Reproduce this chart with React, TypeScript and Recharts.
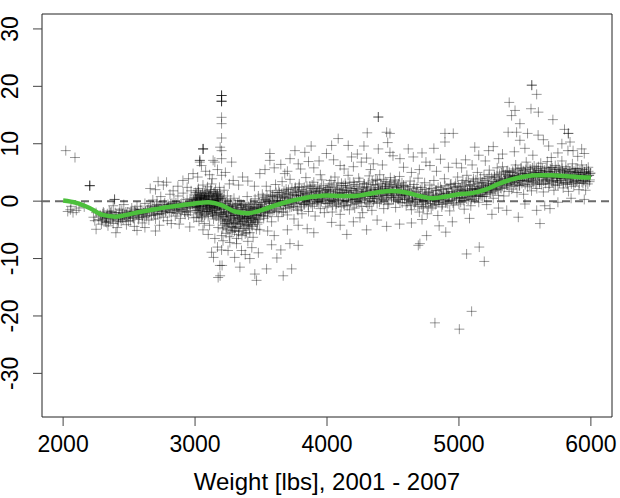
import React from 'react';
import {
  ComposedChart, Scatter, XAxis, YAxis, ReferenceLine, ReferenceArea,
} from 'recharts';

// residuals vs. weight [weight, residual]
const sparseLow: [number, number][] = [
  [2020, 8.8], [2090, 7.6], [2202, 2.7], [2035, -1.8], [2055, -1.5], [2075, -2.0], [2100, -1.6],
  [2120, -1.2], [2060, -0.9], [2160, -1.0], [2230, -2.8], [2240, -3.4], [2250, -2.0],
];

// points that sit on top of each other (drawn darker in the reference)
const stacked: [number, number][] = [
  [2202, 2.7], [2202, 2.7], [2390, 0.3], [3061, 9.1], [3061, 9.1], [3201, 18.4], [3201, 18.4],
  [3201, 17.4], [3201, 17.4], [5552, 20.2], [4389, 14.65], [3036, 7.1], [5829, 11.8],
];

const band2300: [number, number][] = [
  [2270, -3.2], [2280, -2.4], [2290, -4.0], [2300, -3.0], [2310, -2.1], [2320, -3.6], [2330, -2.8],
  [2340, -4.3], [2350, -1.7], [2360, -3.3], [2370, -2.5], [2380, -3.9], [2390, 0.3], [2395, -2.0],
  [2400, -3.1], [2410, -4.6], [2420, -2.7], [2430, -1.4], [2440, -3.5], [2450, -2.2], [2460, -0.6],
  [2470, -3.0], [2480, -4.1], [2490, -1.9], [2500, -2.6], [2510, -3.4], [2520, -1.2], [2530, -2.9],
  [2540, -4.4], [2550, -2.0], [2560, -0.9], [2570, -3.2], [2580, -2.4], [2590, -1.5], [2600, -3.8],
  [2610, -2.1], [2620, -0.4], [2630, -2.7], [2640, -1.6], [2650, -3.3], [2300, -2.2], [2330, -3.7],
  [2360, -2.0], [2420, -3.6], [2450, -2.9], [2480, -2.3], [2510, -2.5], [2540, -1.8], [2570, -2.2],
  [2600, -2.6], [2250, -4.9], [2400, -5.5], [2560, -5.1], [2620, -4.6], [2380, -0.8], [2700, -5.2],
  [2285, -2.6], [2295, -3.4], [2305, -1.9], [2315, -2.8], [2325, -3.1], [2335, -2.2], [2345, -3.6],
  [2355, -2.5], [2365, -1.8], [2375, -3.0], [2385, -2.7], [2405, -2.3], [2415, -3.3], [2425, -2.0],
  [2435, -2.9], [2445, -1.6], [2455, -3.2], [2465, -2.4], [2475, -1.9], [2485, -2.8], [2495, -3.5],
  [2505, -2.1], [2515, -1.7], [2525, -2.6], [2535, -3.0], [2545, -1.5], [2555, -2.3], [2565, -1.9],
  [2575, -2.8], [2585, -1.4], [2595, -2.2], [2605, -1.6], [2615, -2.9], [2625, -1.8], [2635, -2.4],
  [2645, -1.3],
];

const band2800: [number, number][] = [
  [2660, -1.0], [2670, -2.5], [2680, 0.2], [2690, -1.8], [2700, -3.1], [2710, -0.6], [2720, -1.4],
  [2730, -2.2], [2740, 0.8], [2750, -1.1], [2760, -2.8], [2770, -0.3], [2780, -1.7], [2790, -3.4],
  [2800, -0.9], [2810, 1.2], [2820, -2.0], [2830, -1.3], [2840, -0.1], [2850, -2.6], [2860, -0.7],
  [2870, 0.9], [2880, -1.5], [2890, -3.0], [2900, -0.4], [2910, 1.4], [2920, -1.9], [2930, -0.8],
  [2940, 0.3], [2950, -2.4], [2960, -1.1], [2970, 1.8], [2980, -0.5], [2990, -2.9], [2675, -1.6],
  [2725, -0.8], [2775, -1.9], [2825, -0.4], [2875, -1.2], [2925, -2.3], [2975, -0.2], [2695, -2.4],
  [2745, -1.6], [2795, -0.6], [2845, -1.4], [2895, -1.8], [2945, -0.9], [2995, 0.6],
  [2655, -1.9], [2665, -0.8], [2685, -2.1], [2705, -1.3], [2715, -2.3], [2735, -0.9], [2755, -1.8],
  [2765, -0.6], [2785, -1.2], [2805, -2.0], [2815, -0.5], [2835, -1.7], [2855, -0.3], [2865, -1.6],
  [2885, -0.8], [2905, -1.5], [2915, -0.2], [2935, -1.3], [2955, -0.4], [2965, -1.7], [2985, -0.9],
  [2692, -1.0], [2742, -2.2], [2792, -1.4], [2842, -0.7], [2892, -0.5], [2942, -1.9], [2988, 0.2],
  [2712, -0.1], [2812, -1.0], [2912, -1.1], [2862, -2.1], [2962, 0.4],
  [2700, 2.0], [2760, 2.8], [2784, 3.3], [2834, 1.8], [2870, 2.6], [2908, 3.6], [2950, 3.9],
  [2985, 4.8], [2940, 2.4], [2660, 2.2], [2720, 3.4],
  [2730, -4.2], [2880, -4.0], [2960, -4.5], [2820, -3.9],
];

const band3100: [number, number][] = [
  [3000, -1.2], [3005, 1.5], [3010, -2.8], [3015, 0.4], [3020, -0.6], [3025, 2.2], [3030, -3.5],
  [3035, -0.1], [3040, 1.0], [3045, -1.9], [3050, 0.7], [3055, -2.4], [3060, 2.8], [3065, -0.8],
  [3070, -3.9], [3075, 0.2], [3080, 1.8], [3085, -1.4], [3090, -0.3], [3095, 2.5], [3100, -2.1],
  [3105, 0.9], [3110, -4.2], [3115, 1.3], [3120, -0.7], [3125, 3.0], [3130, -1.7], [3135, 0.1],
  [3140, -3.1], [3145, 1.6], [3150, -0.4], [3155, 2.0], [3160, -2.6], [3165, -0.9], [3170, 1.1],
  [3175, -4.6], [3180, 0.5], [3185, 2.4], [3190, -1.5], [3195, -3.3],
  [3002, 0.3], [3012, -0.9], [3022, 1.9], [3032, -1.6], [3042, -0.2], [3052, -2.9], [3062, 0.6],
  [3072, 1.4], [3082, -0.5], [3092, -1.8], [3102, 0.8], [3112, -1.1], [3122, 1.7], [3132, -2.3],
  [3142, 0.0], [3152, -1.2], [3162, 1.2], [3172, -0.6], [3182, -2.0], [3192, 0.9],
  [3008, -0.4], [3028, -1.0], [3048, 0.5], [3068, -0.5], [3088, 0.4], [3108, -0.8], [3128, 0.2],
  [3148, -1.0], [3168, 0.3], [3188, -0.7],
  [3001, -0.7], [3004, 0.9], [3007, -1.6], [3009, 0.1], [3011, 1.2], [3014, -0.3], [3017, -2.0],
  [3019, 0.6], [3021, -1.1], [3024, 0.3], [3027, 1.6], [3029, -0.8], [3031, -2.2], [3034, 0.5],
  [3037, -0.5], [3039, 1.1], [3041, -1.4], [3044, 0.0], [3047, -2.6], [3051, 0.8], [3054, -0.9],
  [3057, 1.3], [3059, -1.7], [3063, -0.2], [3066, 0.9], [3069, -1.3], [3071, 0.4], [3074, -2.4],
  [3077, 1.0], [3079, -0.6], [3083, 0.2], [3086, -1.8], [3089, 1.5], [3091, -0.1], [3094, -1.0],
  [3097, 0.6], [3099, -2.7], [3103, -0.4], [3106, 1.1], [3109, -1.5], [3111, 0.3], [3114, -0.7],
  [3117, 2.0], [3119, -1.9], [3123, 0.0], [3126, -1.2], [3129, 0.9], [3131, -0.3], [3134, -2.1],
  [3137, 0.7], [3139, -0.9], [3143, 1.4], [3146, -1.6], [3149, 0.2], [3151, -2.5], [3154, -0.2],
  [3157, 1.0], [3159, -1.3], [3163, 0.5], [3166, -2.0], [3169, -0.4], [3171, 1.3], [3174, -1.1],
  [3177, 0.1], [3179, -2.9], [3183, 0.8], [3186, -0.8], [3189, 1.6], [3191, -2.3], [3194, -0.5],
  [3197, 0.4],
  [3036, 7.1], [3049, 6.2], [3061, 9.1], [3137, 7.1], [3150, 6.8], [3036, 6.8], [3080, 5.2],
  [3110, 4.6], [3170, 5.5], [3190, 9.4], [3020, 4.2], [3130, 3.9],
  [3125, -8.9], [3188, -11.2], [3175, -13.3], [3212, -6.9], [3100, -5.8], [3150, -6.5],
  [3060, -5.0], [3170, -8.0], [3140, -9.8],
];

const band3350: [number, number][] = [
  [3201, 18.4], [3201, 17.4], [3201, 14.6], [3201, 13.5], [3201, 8.8], [3201, 7.4], [3201, 4.5],
  [3201, 11.0], [3205, -11.2], [3190, -13.0], [3201, -8.5], [3201, -6.0],
  [3200, -2.2], [3205, 0.6], [3210, -4.8], [3215, -1.3], [3220, 1.9], [3225, -3.6], [3230, -0.4],
  [3235, -5.6], [3240, -2.0], [3245, 0.9], [3250, -3.9], [3255, -1.1], [3260, -6.2], [3265, -2.7],
  [3270, 0.2], [3275, -4.4], [3280, -1.6], [3285, -5.1], [3290, -3.0], [3295, 0.5], [3300, -2.4],
  [3305, -4.7], [3310, -0.8], [3315, -6.5], [3320, -3.3], [3325, -1.4], [3330, -5.3], [3335, 0.1],
  [3340, -2.9], [3345, -4.0], [3350, -1.8], [3355, -6.0], [3360, -3.5], [3365, -0.6], [3370, -4.8],
  [3375, -2.2], [3380, -5.7], [3385, -1.0], [3390, -3.8], [3395, 0.8], [3400, -2.6], [3405, -4.3],
  [3410, -1.2], [3415, -5.5], [3420, -3.1], [3425, -0.3], [3430, -4.1], [3435, -2.0], [3440, -6.3],
  [3445, -1.5], [3450, -3.4], [3455, 0.4], [3460, -2.8], [3465, -4.9], [3470, -1.1], [3475, -3.7],
  [3480, 0.9], [3485, -2.3], [3490, -5.0], [3495, -0.7],
  [3212, -2.7], [3228, -1.8], [3242, -3.2], [3258, -0.9], [3272, -2.5], [3288, -1.4], [3302, -3.7],
  [3318, -2.0], [3332, -2.8], [3348, -0.5], [3362, -1.9], [3378, -3.0], [3392, -2.1], [3408, -2.7],
  [3422, -1.7], [3438, -3.1], [3452, -1.3], [3468, -2.4], [3482, -1.0], [3498, -1.9],
  [3202, -1.5], [3207, -3.1], [3209, -0.2], [3213, -4.2], [3217, -2.3], [3219, 0.4], [3223, -1.2],
  [3227, -3.9], [3229, -2.6], [3233, -0.7], [3237, -4.5], [3239, -1.9], [3243, -3.4], [3247, -0.8],
  [3249, -5.0], [3253, -2.2], [3257, -3.6], [3259, -1.3], [3263, -4.1], [3267, -0.5], [3269, -2.9],
  [3273, -5.4], [3277, -1.7], [3279, -3.3], [3283, -0.9], [3287, -4.6], [3289, -2.1], [3293, -3.8],
  [3297, -1.2], [3299, -5.2], [3303, -2.5], [3307, -0.6], [3309, -3.9], [3313, -1.6], [3317, -4.4],
  [3319, -2.4], [3323, -0.4], [3327, -3.5], [3329, -5.8], [3333, -1.9], [3337, -3.0], [3339, -4.7],
  [3343, -1.1], [3347, -2.6], [3349, -4.0], [3353, -0.8], [3357, -3.2], [3359, -2.0], [3363, -5.1],
  [3367, -1.5], [3369, -3.6], [3373, -2.7], [3377, -0.7], [3379, -4.3], [3383, -1.8], [3387, -3.0],
  [3389, -5.5], [3393, -1.4], [3397, -2.8], [3399, -4.1], [3403, -0.9], [3407, -3.4], [3409, -1.9],
  [3413, -4.7], [3417, -2.2], [3419, -0.5], [3423, -3.7], [3427, -1.6], [3429, -2.9], [3433, -4.4],
  [3437, -1.2], [3443, -3.1], [3447, -0.6], [3449, -2.4], [3457, -3.6], [3463, -1.0], [3467, -2.5],
  [3473, -4.0], [3477, -1.4], [3483, -3.2], [3487, -0.3], [3493, -2.6], [3497, -1.3],
  [3264, -7.2], [3314, -7.4], [3352, -8.6], [3415, -10.0], [3453, -12.7], [3466, -13.8],
  [3380, -9.3], [3300, -9.8], [3430, -8.1], [3250, -8.6], [3480, -9.0], [3340, -11.5], [3400, -7.0],
  [3277, 6.8], [3289, 3.6], [3491, 4.8], [3260, 3.0], [3330, 2.8], [3400, 3.5], [3450, 2.6],
  [3230, 5.0], [3360, 4.2],
];

const band3750: [number, number][] = [
  [3500, -1.4], [3510, 1.2], [3520, -3.0], [3530, 0.3], [3540, 2.6], [3550, -2.1], [3560, -0.4],
  [3570, 1.8], [3580, -3.6], [3590, 0.8], [3600, -1.2], [3610, 2.9], [3620, -0.1], [3630, -2.7],
  [3640, 1.5], [3650, -0.8], [3660, 3.4], [3670, -1.9], [3680, 0.6], [3690, 2.1], [3700, -2.4],
  [3710, 0.0], [3720, 3.8], [3730, -1.0], [3740, 1.1], [3750, -3.1], [3760, 2.4], [3770, 0.4],
  [3780, -1.6], [3790, 3.0], [3800, 0.9], [3810, -2.2], [3820, 1.7], [3830, -0.6], [3840, 4.1],
  [3850, 0.2], [3860, -1.8], [3870, 2.6], [3880, 1.0], [3890, -0.9], [3900, 3.3], [3910, -2.6],
  [3920, 1.4], [3930, 0.3], [3940, 2.2], [3950, -1.3], [3960, 3.7], [3970, 0.7], [3980, -2.0],
  [3990, 1.9],
  [3505, -0.6], [3525, -1.7], [3545, 0.9], [3565, -1.0], [3585, -0.2], [3605, 0.1], [3625, 1.0],
  [3645, -0.5], [3665, 0.8], [3685, -0.7], [3705, 1.3], [3725, 0.2], [3745, -0.3], [3765, 0.9],
  [3785, 1.6], [3805, -0.4], [3825, 0.5], [3845, 1.2], [3865, 0.0], [3885, 1.8], [3905, 0.6],
  [3925, -0.2], [3945, 1.1], [3965, 0.4], [3985, 0.9],
  [3502, -2.0], [3508, -0.2], [3514, -1.5], [3518, 0.6], [3522, -2.5], [3528, -0.9], [3534, -1.8],
  [3538, 0.2], [3544, -1.2], [3548, -2.7], [3554, 0.4], [3558, -1.5], [3564, -0.1], [3568, -2.0],
  [3574, 0.9], [3578, -0.8], [3584, -1.9], [3588, 1.1], [3594, -0.4], [3598, -1.6], [3604, 0.7],
  [3608, -0.9], [3614, 1.5], [3618, -1.8], [3624, 0.1], [3628, -0.6], [3634, 1.9], [3638, -1.4],
  [3644, 0.4], [3648, -0.3], [3654, 1.2], [3658, -1.9], [3664, 0.6], [3668, -0.8], [3674, 1.8],
  [3678, -0.2], [3684, 0.9], [3688, -1.3], [3694, 1.6], [3698, 0.1], [3704, -0.6], [3708, 2.0],
  [3714, 0.5], [3718, -1.1], [3724, 1.2], [3728, -0.1], [3734, 2.3], [3738, 0.3], [3744, -0.9],
  [3748, 1.5], [3754, 0.0], [3758, 2.1], [3764, -0.5], [3768, 1.0], [3774, -1.4], [3778, 1.8],
  [3784, 0.4], [3788, 2.5], [3794, -0.3], [3798, 1.1], [3804, -1.0], [3808, 2.0], [3814, 0.6],
  [3818, 1.4], [3824, -0.6], [3828, 2.4], [3834, 0.2], [3838, 1.3], [3844, -0.2], [3848, 2.6],
  [3854, 0.8], [3858, -0.7], [3864, 1.5], [3868, 0.5], [3874, 2.2], [3878, -0.4], [3884, 1.0],
  [3888, 2.8], [3894, 0.3], [3898, 1.6], [3904, -0.5], [3908, 2.1], [3914, 0.9], [3918, 1.7],
  [3924, 0.0], [3928, 2.5], [3934, 1.1], [3938, -0.3], [3944, 1.8], [3948, 0.6], [3954, 2.3],
  [3958, -0.1], [3964, 1.4], [3968, 0.8], [3974, 2.7], [3978, 0.2], [3984, 1.6], [3988, -0.4],
  [3994, 2.0], [3998, 0.7],
  [3567, 8.3], [3567, 7.1], [3757, 8.8], [3782, 6.5], [3832, 8.5], [3996, 8.3], [3600, 5.8],
  [3650, 6.4], [3700, 5.2], [3720, 7.4], [3800, 5.6], [3860, 6.9], [3900, 5.8], [3940, 7.0],
  [3530, 5.5], [3680, 4.8], [3950, 4.6], [3880, 9.6],
  [3542, -11.8], [3668, -13.0], [3732, -11.8], [3782, -7.7], [3719, -7.4], [3782, -4.2],
  [3600, -6.0], [3650, -8.5], [3550, -5.2], [3700, -5.0], [3850, -4.8], [3900, -5.5],
  [3620, -9.9], [3580, -7.6],
];

const band4300: [number, number][] = [
  [4000, -1.0], [4010, 2.4], [4020, 0.1], [4030, 3.6], [4040, -1.9], [4050, 1.2], [4060, 4.2],
  [4070, -0.5], [4080, 2.0], [4090, 0.6], [4100, -2.3], [4110, 3.1], [4120, 1.5], [4130, -0.8],
  [4140, 2.7], [4150, 0.0], [4160, 4.5], [4170, -1.5], [4180, 1.9], [4190, 0.8], [4200, 3.3],
  [4210, -1.2], [4220, 2.2], [4230, 0.4], [4240, 4.0], [4250, -0.2], [4260, 1.6], [4270, -2.0],
  [4280, 3.0], [4290, 0.9], [4300, 2.5], [4310, -0.9], [4320, 4.4], [4330, 1.3], [4340, -1.6],
  [4350, 2.9], [4360, 0.5], [4370, 3.8], [4380, -0.4], [4390, 1.8], [4400, 4.6], [4410, 0.2],
  [4420, 2.6], [4430, -1.3], [4440, 3.4], [4450, 1.0], [4460, -0.6], [4470, 2.3], [4480, 4.1],
  [4490, 0.7], [4500, 1.5], [4510, 3.7], [4520, -1.1], [4530, 2.0], [4540, 0.3], [4550, 4.3],
  [4560, 1.2], [4570, -0.3], [4580, 2.8], [4590, 0.9],
  [4005, 0.9], [4025, 1.6], [4045, 0.4], [4065, 1.1], [4085, 0.2], [4105, 1.4], [4125, 0.7],
  [4145, 1.9], [4165, 0.9], [4185, 0.3], [4205, 1.0], [4225, 1.3], [4245, 0.6], [4265, 1.1],
  [4285, 0.4], [4305, 1.8], [4325, 1.0], [4345, 0.8], [4365, 1.5], [4385, 2.0], [4405, 1.7],
  [4425, 1.2], [4445, 2.1], [4465, 1.4], [4485, 1.9], [4505, 1.0], [4525, 2.4], [4545, 1.6],
  [4565, 1.8], [4585, 1.1],
  [4003, 2.0], [4008, -0.4], [4013, 1.3], [4018, 3.0], [4023, -0.2], [4028, 1.8], [4033, 0.3],
  [4038, 2.5], [4043, -0.7], [4048, 1.1], [4053, 2.8], [4058, 0.0], [4063, 1.6], [4068, -0.9],
  [4073, 2.3], [4078, 0.7], [4083, 3.2], [4088, -0.3], [4093, 1.4], [4098, 2.1], [4103, 0.2],
  [4108, -1.0], [4113, 1.9], [4118, 0.6], [4123, 2.7], [4128, -0.5], [4133, 1.2], [4138, 3.1],
  [4143, 0.1], [4148, 1.7], [4153, -0.8], [4158, 2.4], [4163, 0.8], [4168, 1.5], [4173, 3.3],
  [4178, -0.2], [4183, 1.0], [4188, 2.2], [4193, 0.4], [4198, -0.6], [4203, 1.8], [4208, 2.9],
  [4213, 0.3], [4218, 1.4], [4223, -0.4], [4228, 2.6], [4233, 1.1], [4238, 0.0], [4243, 2.0],
  [4248, 3.4], [4253, 0.6], [4258, 1.3], [4263, -0.9], [4268, 2.4], [4273, 0.9], [4278, 1.7],
  [4283, 3.0], [4288, 0.2], [4293, 1.5], [4298, -0.3], [4303, 2.1], [4308, 0.8], [4313, 3.2],
  [4318, 1.2], [4323, -0.5], [4328, 2.3], [4333, 0.5], [4338, 1.9], [4343, 3.5], [4348, 0.9],
  [4353, -0.1], [4358, 2.0], [4363, 1.3], [4368, 2.8], [4373, 0.4], [4378, 1.6], [4383, 3.6],
  [4388, 0.8], [4393, 2.4], [4398, -0.2], [4403, 1.5], [4408, 3.0], [4413, 0.7], [4418, 2.2],
  [4423, 1.0], [4428, 3.8], [4433, 0.3], [4438, 1.8], [4443, 2.6], [4448, 0.5], [4453, 3.1],
  [4458, 1.4], [4463, 2.0], [4468, -0.4], [4473, 2.9], [4478, 1.1], [4483, 3.3], [4488, 0.6],
  [4493, 2.5], [4498, 1.7], [4503, 0.2], [4508, 2.8], [4513, 1.3], [4518, 3.5], [4523, 0.7],
  [4528, 1.9], [4533, 2.6], [4538, 0.4], [4543, 3.0], [4548, 1.5], [4553, -0.2], [4558, 2.3],
  [4563, 1.0], [4568, 3.2], [4573, 0.6], [4578, 1.8], [4583, 2.7], [4588, 0.3], [4593, 1.4],
  [4598, 2.5],
  [4389, 14.65], [4305, 11.9], [4452, 12.0], [4477, 11.8], [4085, 10.9], [4161, 9.7], [4035, 9.7],
  [4389, 9.1], [4477, 8.5], [4186, 7.7], [4351, 6.5], [4553, 7.4], [4616, 9.1], [4100, 6.2],
  [4230, 8.2], [4260, 6.8], [4300, 7.5], [4420, 6.3], [4500, 7.9], [4050, 7.2], [4130, 5.6],
  [4200, 6.0], [4330, 5.5], [4580, 5.9], [4460, 10.2], [4280, 9.6],
  [4035, -3.7], [4452, -4.4], [4100, -4.2], [4200, -3.6], [4300, -5.0], [4380, -3.3], [4550, -4.0],
  [4150, -5.8], [4250, -2.9],
];

const band4800: [number, number][] = [
  [4600, -0.8], [4610, 2.0], [4620, 0.4], [4630, 3.5], [4640, -1.5], [4650, 1.1], [4660, 2.9],
  [4670, -0.2], [4680, 1.7], [4690, 4.0], [4700, -1.9], [4710, 0.6], [4720, 2.4], [4730, -0.9],
  [4740, 3.2], [4750, 0.0], [4760, -2.2], [4770, 1.5], [4780, 2.8], [4790, -1.2], [4800, 0.8],
  [4810, 3.6], [4820, -0.6], [4830, 1.9], [4840, -2.5], [4850, 0.3], [4860, 2.5], [4870, -1.0],
  [4880, 1.2], [4890, 3.9], [4900, -0.3], [4910, 2.2], [4920, 0.7], [4930, -1.7], [4940, 3.0],
  [4950, 1.0], [4960, -0.7], [4970, 2.6], [4980, 0.2], [4990, 4.2],
  [4605, 0.9], [4625, 1.3], [4645, 0.6], [4665, 1.0], [4685, 0.3], [4705, 0.9], [4725, 0.1],
  [4745, 1.2], [4765, 0.5], [4785, 0.0], [4805, 0.6], [4825, 1.1], [4845, 0.4], [4865, 0.9],
  [4885, 0.2], [4905, 1.3], [4925, 0.8], [4945, 1.6], [4965, 0.7], [4985, 1.5],
  [4608, -0.3], [4615, 1.8], [4622, 0.2], [4628, 2.5], [4635, -0.7], [4642, 1.3], [4648, 0.4],
  [4655, 2.2], [4662, -0.5], [4668, 1.5], [4675, 0.0], [4682, 2.4], [4688, -0.9], [4695, 1.1],
  [4702, 0.3], [4708, 2.0], [4715, -0.6], [4722, 1.2], [4728, -1.2], [4735, 0.9], [4742, 2.1],
  [4748, -0.3], [4755, 1.4], [4762, 0.2], [4768, -1.0], [4775, 1.7], [4782, -0.4], [4788, 0.8],
  [4795, 2.2], [4802, -0.8], [4808, 1.0], [4815, 0.1], [4822, 1.9], [4828, -0.5], [4835, 0.7],
  [4842, 2.4], [4848, -0.2], [4855, 1.3], [4862, 0.4], [4868, 2.0], [4875, -0.6], [4882, 1.6],
  [4888, 0.6], [4895, 2.7], [4902, 0.0], [4908, 1.4], [4915, -0.4], [4922, 2.1], [4928, 0.9],
  [4935, 2.9], [4942, 0.2], [4948, 1.7], [4955, -0.3], [4962, 2.4], [4968, 1.0], [4975, 3.1],
  [4982, 0.5], [4988, 1.9], [4995, 2.6],
  [4654, 7.7], [4780, 6.2], [4894, 11.8], [4894, 10.3], [4957, 11.8], [4700, 5.5], [4750, 6.8],
  [4830, 5.2], [4860, 7.3], [4920, 5.9], [4980, 6.6], [4640, 5.0], [4720, 8.4], [4810, 9.2],
  [4755, -6.0], [4692, -7.7], [4704, -7.4], [4818, -21.2], [4640, -3.8], [4720, -3.2],
  [4850, -4.3], [4950, -3.6], [4900, -5.4],
];

const band5200: [number, number][] = [
  [5000, -0.5], [5010, 2.3], [5020, 0.6], [5030, 3.6], [5040, -1.4], [5050, 1.8], [5060, 4.5],
  [5070, 0.2], [5080, 2.7], [5090, -0.8], [5100, 1.5], [5110, 3.9], [5120, 0.4], [5130, 2.1],
  [5140, 5.0], [5150, -0.2], [5160, 1.2], [5170, 3.2], [5180, 0.8], [5190, 4.6], [5200, 1.9],
  [5210, -0.6], [5220, 3.0], [5230, 5.4], [5240, 1.4], [5250, 2.6], [5260, 0.5], [5270, 4.2],
  [5280, 2.0], [5290, 5.8], [5300, 1.0], [5310, 3.5], [5320, 2.2], [5330, 6.0], [5340, 0.9],
  [5350, 4.0], [5360, 2.8], [5370, 5.3], [5380, 1.7], [5390, 3.6],
  [5005, 1.0], [5025, 1.4], [5045, 0.9], [5065, 1.6], [5085, 1.2], [5105, 2.0], [5125, 1.6],
  [5145, 2.2], [5165, 1.9], [5185, 2.4], [5205, 2.0], [5225, 2.7], [5245, 2.3], [5265, 3.0],
  [5285, 2.9], [5305, 3.4], [5325, 3.2], [5345, 3.7], [5365, 3.5], [5385, 4.1],
  [5003, 0.5], [5008, 2.0], [5013, -0.2], [5018, 1.7], [5023, 3.0], [5028, 0.6], [5033, 1.9],
  [5038, 0.1], [5043, 2.6], [5048, 1.2], [5053, 3.3], [5058, 0.4], [5063, 2.1], [5068, 1.0],
  [5073, 3.5], [5078, 0.7], [5083, 1.8], [5088, 2.9], [5093, 0.3], [5098, 2.2], [5103, 1.1],
  [5108, 3.4], [5113, 0.8], [5118, 2.5], [5123, 1.4], [5128, 3.7], [5133, 0.9], [5138, 2.0],
  [5143, 3.1], [5148, 1.0], [5153, 2.6], [5158, 1.5], [5163, 4.0], [5168, 0.9], [5173, 2.3],
  [5178, 3.3], [5183, 1.6], [5188, 2.8], [5193, 0.8], [5198, 3.6], [5203, 2.1], [5208, 1.2],
  [5213, 3.9], [5218, 1.8], [5223, 2.6], [5228, 4.3], [5233, 1.5], [5238, 3.0], [5243, 2.2],
  [5248, 4.1], [5253, 1.7], [5258, 3.4], [5263, 2.5], [5268, 4.6], [5273, 1.9], [5278, 3.2],
  [5283, 2.7], [5288, 4.4], [5293, 2.0], [5298, 3.8], [5303, 2.9], [5308, 4.7], [5313, 2.3],
  [5318, 3.6], [5323, 4.9], [5328, 2.6], [5333, 3.4], [5338, 5.1], [5343, 2.4], [5348, 3.9],
  [5353, 4.6], [5358, 3.0], [5363, 5.2], [5368, 2.8], [5373, 4.3], [5378, 3.5], [5383, 5.0],
  [5388, 3.1], [5393, 4.5], [5398, 3.7],
  [5225, 8.8], [5301, 7.4], [5050, 7.2], [5100, 6.3], [5150, 8.0], [5200, 7.0], [5260, 9.5],
  [5330, 8.2], [5373, 12.0], [5381, 17.2], [5020, 5.8], [5120, 9.4],
  [5058, -9.2], [5154, -8.0], [5192, -10.5], [5096, -19.2], [5003, -22.3], [5362, -1.6],
  [5300, -1.2], [5080, -3.0], [5250, -2.3],
];

const band5700: [number, number][] = [
  [5400, 2.1], [5410, 5.0], [5420, 3.2], [5430, 6.3], [5440, 1.5], [5450, 4.4], [5460, 2.7],
  [5470, 5.8], [5480, 3.6], [5490, 1.2], [5500, 4.9], [5510, 6.8], [5520, 2.5], [5530, 4.1],
  [5540, 5.6], [5550, 1.8], [5560, 3.4], [5570, 6.1], [5580, 4.6], [5590, 2.2], [5600, 5.3],
  [5610, 3.0], [5620, 6.6], [5630, 4.2], [5640, 1.6], [5650, 5.1], [5660, 3.7], [5670, 6.9],
  [5680, 2.4], [5690, 4.8], [5700, 5.9], [5710, 3.3], [5720, 1.9], [5730, 6.2], [5740, 4.5],
  [5750, 2.8], [5760, 5.5], [5770, 3.9], [5780, 7.0], [5790, 2.3], [5800, 4.7], [5810, 6.0],
  [5820, 3.2], [5830, 1.7], [5840, 5.2], [5850, 4.0], [5860, 6.5], [5870, 2.6], [5880, 4.9],
  [5890, 3.5], [5900, 5.7], [5910, 2.0], [5920, 4.3], [5930, 6.3], [5940, 3.1], [5950, 5.0],
  [5960, 1.9], [5970, 4.4], [5980, 5.9], [5990, 3.4], [5995, 4.8],
  [5405, 4.0], [5425, 4.3], [5445, 3.9], [5465, 4.5], [5485, 4.2], [5505, 4.8], [5525, 4.4],
  [5545, 4.1], [5565, 4.7], [5585, 5.0], [5605, 4.3], [5625, 4.9], [5645, 4.6], [5665, 4.2],
  [5685, 5.1], [5705, 4.5], [5725, 4.8], [5745, 4.0], [5765, 4.6], [5785, 5.2], [5805, 4.3],
  [5825, 4.7], [5845, 3.9], [5865, 4.4], [5885, 5.0], [5905, 4.2], [5925, 4.6], [5945, 4.1],
  [5965, 4.9], [5985, 4.5],
  [5402, 3.4], [5407, 5.2], [5412, 2.6], [5417, 4.5], [5422, 3.8], [5427, 5.6], [5432, 2.9],
  [5437, 4.2], [5442, 3.3], [5447, 5.4], [5452, 4.0], [5457, 2.7], [5462, 4.8], [5467, 3.6],
  [5472, 5.7], [5477, 3.1], [5482, 4.6], [5487, 5.3], [5492, 3.5], [5497, 4.4], [5502, 2.9],
  [5507, 5.5], [5512, 4.1], [5517, 3.4], [5522, 5.9], [5527, 3.8], [5532, 4.7], [5537, 2.8],
  [5542, 5.2], [5547, 4.3], [5552, 3.6], [5557, 5.8], [5562, 4.0], [5567, 3.2], [5572, 5.0],
  [5577, 4.5], [5582, 3.0], [5587, 5.6], [5592, 4.2], [5597, 3.7], [5602, 6.0], [5607, 4.4],
  [5612, 3.3], [5617, 5.3], [5622, 4.8], [5627, 2.9], [5632, 5.7], [5637, 4.1], [5642, 3.5],
  [5647, 5.4], [5652, 4.6], [5657, 3.1], [5662, 5.9], [5667, 4.3], [5672, 3.7], [5677, 5.2],
  [5682, 4.0], [5687, 3.0], [5692, 5.6], [5697, 4.7], [5702, 3.4], [5707, 5.8], [5712, 4.2],
  [5717, 3.6], [5722, 5.1], [5727, 4.4], [5732, 2.8], [5737, 5.5], [5742, 4.1], [5747, 3.5],
  [5752, 5.9], [5757, 4.6], [5762, 3.2], [5767, 5.3], [5772, 4.0], [5777, 3.6], [5782, 5.7],
  [5787, 4.3], [5792, 3.1], [5797, 5.0], [5802, 4.5], [5807, 3.3], [5812, 5.4], [5817, 4.1],
  [5822, 2.9], [5827, 5.6], [5832, 4.4], [5837, 3.7], [5842, 5.1], [5847, 4.2], [5852, 3.0],
  [5857, 5.5], [5862, 4.0], [5867, 3.4], [5872, 5.2], [5877, 4.6], [5882, 3.2], [5887, 5.7],
  [5892, 4.1], [5897, 3.6], [5902, 5.0], [5907, 4.4], [5912, 3.1], [5917, 5.3], [5922, 3.9],
  [5927, 4.7], [5932, 3.3], [5937, 5.5], [5942, 4.2], [5947, 3.6], [5952, 5.1], [5957, 4.0],
  [5962, 3.4], [5967, 5.6], [5972, 4.3], [5977, 3.0], [5982, 5.2], [5987, 4.5], [5992, 3.7],
  [5997, 4.9],
  [5552, 20.2], [5589, 18.6], [5425, 15.8], [5399, 14.9], [5546, 16.1], [5602, 15.5], [5712, 14.2],
  [5462, 13.5], [5437, 12.0], [5462, 10.6], [5640, 10.7], [5829, 11.8], [5842, 10.3], [5826, 8.8],
  [5865, 8.8], [5930, 9.1], [5500, 9.2], [5560, 8.0], [5600, 11.5], [5680, 9.6], [5750, 8.4],
  [5780, 10.0], [5900, 7.8], [5950, 8.3], [5420, 8.6], [5700, 7.6], [5800, 12.5], [5520, 11.8],
  [5589, -1.6], [5614, -3.9], [5690, -1.3], [5450, -2.8], [5500, -0.5], [5750, -0.2],
  [5850, 0.5], [5950, 0.3], [5650, -0.8],
];

// loess-style smoother, read every 100 lbs
const smoothWeights = [
  2000, 2100, 2200, 2300, 2400, 2500, 2600, 2700, 2800, 2900, 3000, 3100, 3200, 3300, 3400,
  3500, 3600, 3700, 3800, 3900, 4000, 4100, 4200, 4300, 4400, 4500, 4600, 4700, 4800, 4900,
  5000, 5100, 5200, 5300, 5400, 5500, 5600, 5700, 5800, 5900, 6000,
];
const smoothValues = [
  0.1, -0.3, -1.2, -2.4, -2.7, -2.3, -1.8, -1.4, -1.0, -0.7, -0.4, -0.2, -0.7, -1.8, -2.1,
  -1.6, -0.8, -0.1, 0.4, 0.8, 1.0, 0.9, 0.9, 1.2, 1.6, 1.75, 1.5, 0.9, 0.5, 0.8,
  1.2, 1.4, 2.0, 3.0, 3.8, 4.3, 4.5, 4.5, 4.4, 4.2, 4.1,
];

const xTicks = [2000, 3000, 4000, 5000, 6000];
const yTicks = [-30, -20, -10, 0, 10, 20, 30];

const points = [
  ...sparseLow, ...stacked, ...band2300, ...band2800, ...band3100, ...band3350,
  ...band3750, ...band4300, ...band4800, ...band5200, ...band5700,
].map(([x, y]) => ({ x, y }));
const smooth = smoothWeights.map((x, i) => ({ x, y: smoothValues[i] }));

const font = '"Liberation Sans", Arial, Helvetica, sans-serif';
const X_DOMAIN: [number, number] = [1840, 6160];
const Y_DOMAIN: [number, number] = [-37.6, 32.6];

const Cross = (props: any) => {
  const { cx, cy } = props;
  if (cx == null || cy == null) return null;
  return (
    <path
      d={`M${cx - 5},${cy}h10M${cx},${cy - 5}v10`}
      stroke="#000"
      strokeOpacity={0.4}
      strokeWidth={1}
      fill="none"
    />
  );
};

const NoDot = () => null;

const XTick = ({ x, payload }: any) => (
  <text x={x} y={452} textAnchor="middle" fontSize={23} fontFamily={font} fill="#000">
    {payload.value}
  </text>
);

const YTick = ({ y, payload }: any) => (
  <text
    x={18}
    y={y}
    transform={`rotate(-90, 18, ${y})`}
    textAnchor="middle"
    fontSize={23}
    fontFamily={font}
    fill="#000"
  >
    {payload.value}
  </text>
);

export default function App() {
  return (
    <div style={{ position: 'fixed', left: 0, top: 0, width: 620, height: 498, background: '#fff' }}>
      <ComposedChart
        width={620}
        height={498}
        margin={{ top: 14, right: 8, bottom: 0, left: 0 }}
      >
        <XAxis
          type="number"
          dataKey="x"
          domain={X_DOMAIN}
          ticks={xTicks}
          allowDataOverflow
          axisLine={false}
          tickLine={{ stroke: '#444' }}
          tickSize={9}
          tick={<XTick />}
          height={81}
          label={{
            value: 'Weight [lbs], 2001 - 2007',
            position: 'insideBottom',
            offset: 8,
            fontSize: 24,
            fontFamily: font,
            fill: '#000',
          }}
        />
        <YAxis
          type="number"
          dataKey="y"
          domain={Y_DOMAIN}
          ticks={yTicks}
          allowDataOverflow
          axisLine={false}
          tickLine={{ stroke: '#444' }}
          tickSize={9}
          tick={<YTick />}
          width={42}
        />
        <ReferenceLine y={0} stroke="#6b6b6b" strokeWidth={2} strokeDasharray="8 5" />
        <Scatter data={points} shape={<Cross />} isAnimationActive={false} />
        {/* smoother drawn as a second scatter so it sits above the crosses */}
        <Scatter
          data={smooth}
          shape={<NoDot />}
          line={{ stroke: '#4cbf3c', strokeWidth: 4.5 }}
          lineJointType="monotoneX"
          isAnimationActive={false}
        />
        <ReferenceArea
          x1={X_DOMAIN[0]}
          x2={X_DOMAIN[1]}
          y1={Y_DOMAIN[0]}
          y2={Y_DOMAIN[1]}
          fill="none"
          stroke="#222"
          strokeWidth={1}
          ifOverflow="visible"
        />
      </ComposedChart>
    </div>
  );
}
